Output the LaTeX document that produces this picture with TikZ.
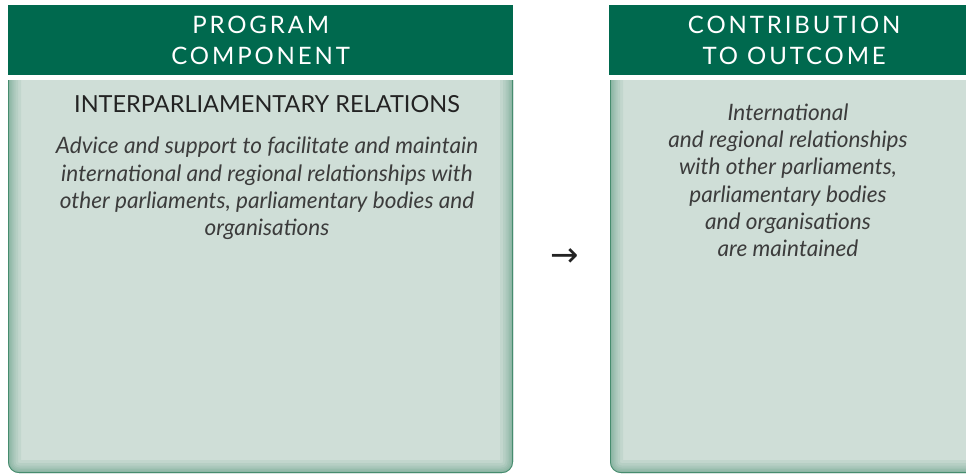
\documentclass[tikz,border=0pt]{standalone}
\usepackage{fontspec}
\setmainfont{Lato}
\newfontfamily\headfont[LetterSpace=12]{Lato}
\newfontfamily\arrowfont{DejaVu Sans}
\definecolor{hdr}{RGB}{0,105,78}
\definecolor{bodyfill}{RGB}{207,222,215}
\definecolor{edgegreen}{RGB}{70,140,110}
\definecolor{txt}{RGB}{35,35,35}
\definecolor{itxt}{RGB}{60,60,60}
\tikzset{
  hdrbox/.style={fill=hdr, text=white, inner sep=0pt, anchor=north west,
    align=center, font=\headfont\fontsize{24}{31}\selectfont},
  titletext/.style={text=txt, inner sep=0pt, font=\fontsize{23.5}{26}\selectfont},
  desctext/.style={text=itxt, inner sep=0pt, align=center,
    font=\itshape\fontsize{22.6}{27.3}\selectfont},
}
\newcommand{\bodypanel}[4]{%
  \begin{scope}
    \clip (#1,#2) rectangle (#3,#4);
    \clip[rounded corners=11pt] (#1,#2-30) rectangle (#3,#4);
    \fill[bodyfill] (#1,#2-30) rectangle (#3,#4);
    \foreach \w in {26,20,15,11,8,5,3} {
      \draw[edgegreen, line width=\w pt, opacity=0.09, rounded corners=11pt] (#1,#2-30) rectangle (#3,#4);
    }
    \draw[edgegreen, line width=1.6pt, rounded corners=11pt] (#1,#2-30) rectangle (#3,#4);
  \end{scope}}
\begin{document}
\begin{tikzpicture}[x=1pt,y=-1pt]
\useasboundingbox (0,0) rectangle (966,474);
\fill[white] (0,0) rectangle (966,474);
\clip (0,0) rectangle (966,474);

% headers
\node[hdrbox, minimum width=505pt, minimum height=70pt] (h1) at (8,5) {PROGRAM\\COMPONENT};
\node[hdrbox, minimum width=370pt, minimum height=70pt] (h2) at (609,5) {CONTRIBUTION\\TO OUTCOME};

% bodies
\bodypanel{8}{80}{513}{473}
\bodypanel{610}{80}{980}{473}

% left text
\node[titletext] (t1) at (267,104) {INTERPARLIAMENTARY RELATIONS};
\node[desctext, anchor=north] (d1) at (267,137) {Advice and support to facilitate and maintain\\
international and regional relationships with\\
other parliaments, parliamentary bodies and\\
organisations};

% right text
\node[desctext, anchor=north] (d2) at (788,103.5) {International\\
and regional relationships\\
with other parliaments,\\
parliamentary bodies\\
and organisations\\
are maintained};

% arrow
\node[text=txt, inner sep=0pt, font=\arrowfont\fontsize{34}{34}\selectfont] (arr) at (565,258) {→};
\end{tikzpicture}
\end{document}
